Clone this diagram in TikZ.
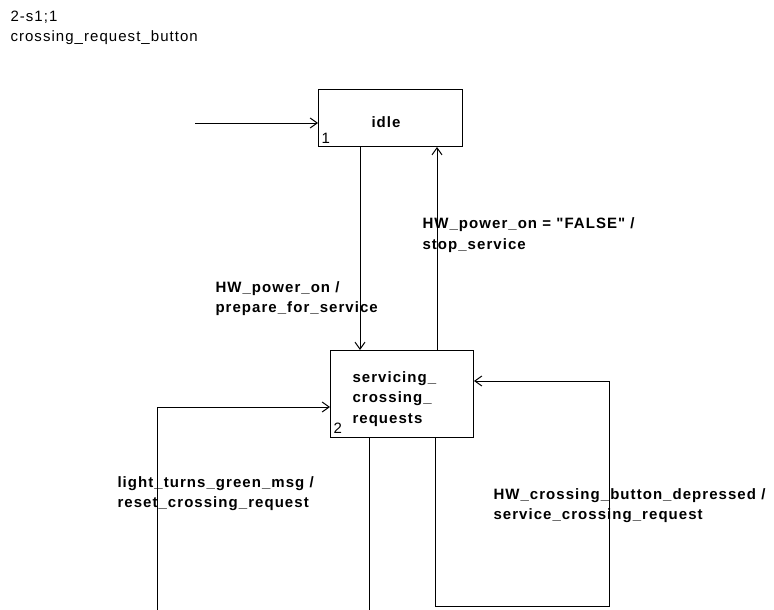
\documentclass[tikz,border=0pt]{standalone}
\usepackage{fontspec}
\setmainfont{Liberation Sans}[LetterSpace=7,Ligatures=TeXOff]
\usetikzlibrary{arrows.meta}
\begin{document}
\begin{tikzpicture}[x=1pt,y=-1pt,line width=1pt,
  >={Straight Barb[length=7pt,width=10pt]},
  lbl/.style={font=\fontsize{15}{20.5}\selectfont\bfseries,align=left,anchor=north west,inner sep=0pt},
  hdr/.style={font=\fontsize{15}{20}\selectfont,align=left,anchor=north west,inner sep=0pt},
  statebox/.style={draw,rectangle,inner sep=0pt,anchor=north west},
  num/.style={font=\fontsize{15}{15}\selectfont,anchor=base west,inner sep=0pt}]
\useasboundingbox (0,0) rectangle (774,610);
\clip (0,0) rectangle (774,610);
% header
\node[hdr] (hdr) at (10,11) {2-s1;1\\crossing\_request\_button};
% states
\node[statebox,minimum width=144,minimum height=57] (idle) at (318,89) {};
\node[lbl,anchor=center] (idleT) at (386,122) {idle};
\node[num] (n1) at (321,143) {1};
\node[statebox,minimum width=143,minimum height=87] (serv) at (330,350) {};
\node[lbl] (servT) at (352,371) {servicing\_\\crossing\_\\requests};
\node[num] (n2) at (333,433) {2};
% connectors
\coordinate (init) at (195,123);
\draw[->] (init) -- (init -| idle.west);
\draw[->] ([xshift=42pt]idle.south west) -- ([xshift=30pt]serv.north west);
\draw[->] ([xshift=107pt]serv.north west) -- ([xshift=119pt]idle.south west);
\coordinate (lbot) at (157,625);
\draw[->] ([xshift=39pt]serv.south west) |- (lbot) |- ([yshift=-57pt]serv.north west);
\coordinate (rbot) at (609,606);
\draw[->] ([xshift=105pt]serv.south west) |- (rbot) |- ([yshift=-31pt]serv.north east);
% labels
\node[lbl] (la) at (215,281) {HW\_power\_on /\\prepare\_for\_service};
\node[lbl,font=\fontsize{15}{21.5}\selectfont\bfseries] (lb) at (422,217) {HW\_power\_on = "FALSE" /\\stop\_service};
\node[lbl] (lc) at (117,476) {light\_turns\_green\_msg /\\reset\_crossing\_request};
\node[lbl] (ld) at (493,488) {HW\_crossing\_button\_depressed /\\service\_crossing\_request};
\end{tikzpicture}
\end{document}
